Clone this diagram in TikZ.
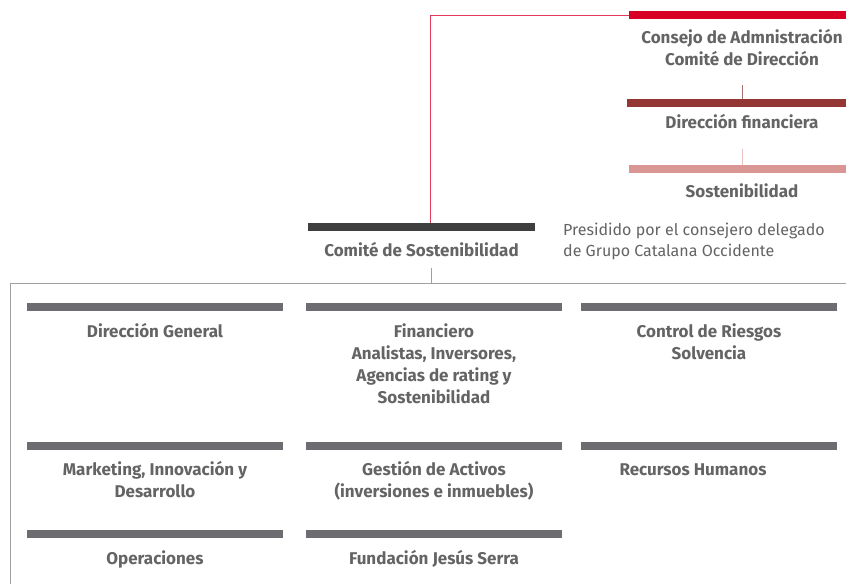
\documentclass[tikz,border=0pt]{standalone}
\usepackage{fontspec}
\setmainfont{Fira Sans}
\usetikzlibrary{positioning,calc}
\definecolor{cdared}{RGB}{216,0,36}
\definecolor{linered}{RGB}{226,58,90}
\definecolor{dfred}{RGB}{148,54,52}
\definecolor{sospink}{RGB}{217,150,148}
\definecolor{csdark}{RGB}{63,63,63}
\definecolor{areagrey}{RGB}{109,108,112}
\definecolor{labelgrey}{RGB}{100,100,100}
\definecolor{framegrey}{RGB}{160,160,160}
\definecolor{linkbrown}{RGB}{168,110,110}
\definecolor{linkpink}{RGB}{235,192,192}
\tikzset{%
    bar/.style={fill=#1, draw=none, inner sep=0pt, outer sep=0pt,
        minimum height=8pt, anchor=north west},
    lbl/.style={text=labelgrey, font=\fontsize{17}{22}\selectfont\bfseries,
        align=center, inner sep=0pt, anchor=base},
    lines/.style={yshift={-22pt*(#1-1)}},
    note/.style={text=labelgrey, font=\fontsize{16}{21}\selectfont,
        align=left, inner sep=0pt, anchor=base west},
    link/.style={draw=#1, line width=1pt}
}
\begin{document}
\begin{tikzpicture}[x=1pt,y=-1pt]
    \useasboundingbox[fill=white] (0,0) rectangle (846,584);
    % upper chain
    \node[bar=cdared, minimum width=226pt] (cda bar) at (629,11) {};
    \node[lbl, lines=2] (cda) at ($(cda bar.south)+(0,24)$) {Consejo de Admnistración\\Comité de Dirección};
    \node[bar=dfred, minimum width=230pt] (df bar) at (627,99) {};
    \node[lbl] (df) at ($(df bar.south)+(0,21)$) {Dirección financiera};
    \node[bar=sospink, minimum width=226pt] (sos bar) at (629,165) {};
    \node[lbl] (sos) at ($(sos bar.south)+(0,24)$) {Sostenibilidad};
    \draw[link=linkbrown] (df bar.north) -- ++(0,-14);
    \draw[link=linkpink] (sos bar.north) -- ++(0,-16);
    % comite
    \node[bar=csdark, minimum width=227pt] (cs bar) at (308,223) {};
    \node[lbl] (cs) at ($(cs bar.south)+(0,25)$) {Comité de Sostenibilidad};
    \node[note] (pres) at (563,256) {Presidido por el consejero delegado\\de Grupo Catalana Occidente};
    \coordinate (red foot) at ($(cs bar.north west)+(122,0)$);
    \draw[link=linered] (cda bar.west) -| (red foot);
    % frame
    \coordinate (frame nw) at (10,283);
    \coordinate (cs foot) at (431,283);
    \draw[link=framegrey] (846,283) -- (frame nw) -- (10,584);
    \draw[link=framegrey] ($(cs foot)+(0,-15)$) -- (cs foot);
    % areas
    \foreach \name/\x/\y in {dg/27/303, fin/306/303, crs/581/303,
        mkt/27/442, ga/306/442, rh/581/442, op/27/530, fjs/306/530}
        \node[bar=areagrey, minimum width=256pt] (\name\space bar) at (\x,\y) {};
    \node[lbl] (dg) at ($(dg bar.south)+(0,26)$) {Dirección General};
    \node[lbl, lines=4] (fin) at ($(fin bar.south)+(0,26)$) {Financiero\\Analistas, Inversores,\\Agencias de rating y\\Sostenibilidad};
    \node[lbl, lines=2] (crs) at ($(crs bar.south)+(0,26)$) {Control de Riesgos\\Solvencia};
    \node[lbl, lines=2] (mkt) at ($(mkt bar.south)+(0,25)$) {Marketing, Innovación y\\Desarrollo};
    \node[lbl, lines=2] (ga) at ($(ga bar.south)+(0,25)$) {Gestión de Activos\\(inversiones e inmuebles)};
    \node[lbl] (rh) at ($(rh bar.south)+(-16,25)$) {Recursos Humanos};
    \node[lbl] (op) at ($(op bar.south)+(0,26)$) {Operaciones};
    \node[lbl] (fjs) at ($(fjs bar.south)+(0,26)$) {Fundación Jesús Serra};
\end{tikzpicture}
\end{document}
